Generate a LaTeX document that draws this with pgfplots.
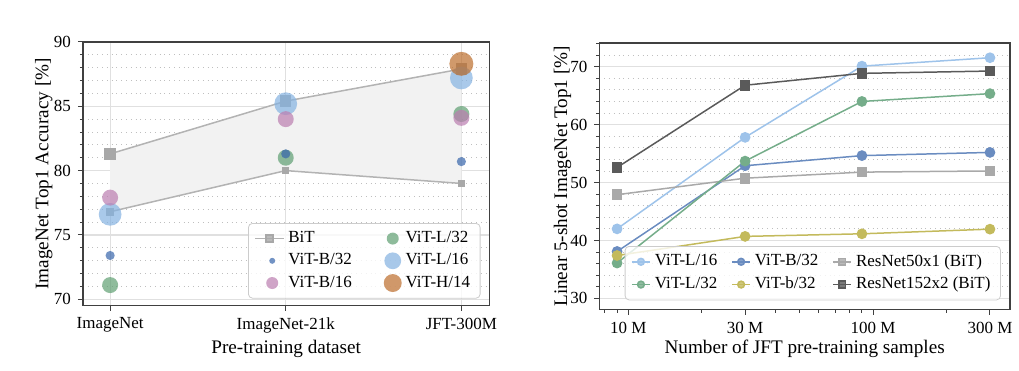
\documentclass[border=0pt]{standalone}
\usepackage{fontspec}
\setmainfont{Liberation Serif}
\usepackage{pgfplots}
\pgfplotsset{compat=1.18}

\definecolor{bitline}{HTML}{B3B3B3}
\definecolor{bitmark}{HTML}{A8A8A8}
\definecolor{bitfill}{HTML}{F2F2F2}
\definecolor{cB32}{HTML}{3765AB}
\definecolor{cB16}{HTML}{BB7EB0}
\definecolor{cL32}{HTML}{5F9F72}
\definecolor{cL16}{HTML}{84B2E1}
\definecolor{cH14}{HTML}{BC6D2C}
\definecolor{rL16}{HTML}{9EC3EA}
\definecolor{rB32}{HTML}{6A8CC0}
\definecolor{rL32}{HTML}{75AD8A}
\definecolor{rb32}{HTML}{C3BA5C}
\definecolor{rR50}{HTML}{A9A9A9}
\definecolor{rR152}{HTML}{5A5A5A}

\pgfplotsset{
  common/.style={
    scale only axis,
    axis line style={draw=black!75, line width=0.6pt},
    tick style={draw=black!75, line width=0.5pt},
    tick align=outside,
    tick pos=left,
    major tick length=2.5pt,
    minor tick length=1.5pt,
    ticklabel style={font=\fontsize{8.5}{10}\selectfont},
    label style={font=\fontsize{9.6}{11}\selectfont},
    /pgf/number format/assume math mode=true,
    major grid style={line width=0.6pt, draw=black!12},
    minor grid style={dotted, draw=black!25, line width=0.4pt},
    legend style={font=\fontsize{8.5}{10}\selectfont, draw=black!20, rounded corners=2pt,
      fill=white, fill opacity=0.8, text opacity=1, draw opacity=1},
  },
  dot/.style={only marks, color=#1, mark=*, mark options={solid, fill=#1, fill opacity=0.7, draw opacity=0}},
  rline/.style={color=#1, line width=0.75pt, mark=*, mark size=2.3pt, mark options={solid, fill=#1, draw=#1}},
  rsq/.style={color=#1, line width=0.75pt, mark=square*, mark size=2.3pt, mark options={solid, fill=#1, draw=#1}},
}

\begin{document}
\begin{tikzpicture}
\path (0pt,0pt) rectangle (509.5pt,185.5pt);

% ---------------- Left plot ----------------
\begin{axis}[common,
  at={(41.5pt,32.5pt)}, anchor=south west,
  width=203.5pt, height=132pt,
  xmin=-0.155, xmax=2.16, ymin=69.5, ymax=90,
  xtick={0,1,2}, xticklabels={ImageNet,ImageNet-21k,JFT-300M},
  ytick={70,75,80,85,90},
  minor ytick={71,72,73,74,76,77,78,79,81,82,83,84,86,87,88,89},
  xmajorgrids, ymajorgrids, yminorgrids,
  xlabel={Pre-training dataset},
  ylabel={ImageNet Top1 Accuracy [\%]},
  xlabel style={at={(axis description cs:0.5,-0.163)}, anchor=center},
  ylabel style={at={(axis description cs:-0.096,0.5)}, anchor=center},
  legend columns=2,
  legend style={at={(0.978,0.027)}, anchor=south east,
    /tikz/every even column/.append style={column sep=14pt}},
  legend cell align=left,
]
\addplot[draw=none, fill=bitfill, forget plot] coordinates {(0,81.3) (1,85.4) (2,87.9) (2,79.0) (1,80.0) (0,76.8)} -- cycle;
\addplot[color=bitline, line width=0.75pt, mark=square*, mark size=2.5pt, mark options={fill=bitmark, draw=bitmark},
  legend image code/.code={\draw[mark repeat=2,mark phase=2] plot coordinates {(0cm,0cm)(0.25cm,0cm)(0.5cm,0cm)};},
  legend image post style={mark size=1.8pt}]
  coordinates {(0,81.3) (1,85.4) (2,87.9)};
\addlegendentry{BiT}
\addplot[color=bitline, line width=0.75pt, mark=square*, mark size=1.5pt, mark options={fill=bitmark, draw=bitmark}, forget plot]
  coordinates {(0,76.8) (1,80.0) (2,79.0)};
\addplot[dot=cL32, mark size=4pt, legend image post style={mark size=3pt}] coordinates {(0,71.1) (1,81.0) (2,84.4)};
\addlegendentry{ViT-L/32}
\addplot[dot=cB32, mark size=2.3pt, legend image post style={mark size=1.5pt}] coordinates {(0,73.4) (1,81.3) (2,80.7)};
\addlegendentry{ViT-B/32}
\addplot[dot=cL16, mark size=5.7pt, legend image post style={mark size=4.2pt}] coordinates {(0,76.6) (1,85.2) (2,87.2)};
\addlegendentry{ViT-L/16}
\addplot[dot=cB16, mark size=4pt, legend image post style={mark size=3pt}] coordinates {(0,77.9) (1,84.0) (2,84.1)};
\addlegendentry{ViT-B/16}
\addplot[dot=cH14, mark size=6pt, legend image post style={mark size=4.5pt}] coordinates {(2,88.3)};
\addlegendentry{ViT-H/14}
\end{axis}

% ---------------- Right plot ----------------
\begin{axis}[common,
  at={(300pt,30.5pt)}, anchor=south west,
  width=205.5pt, height=133.5pt,
  xmode=log,
  xmin=7.62e6, xmax=3.62e8, ymin=28.05, ymax=74.1,
  xtick={1e7,3e7,1e8,3e8}, xticklabels={10 M,30 M,100 M,300 M},
  minor xtick={8e6,9e6,2e7,4e7,5e7,6e7,7e7,8e7,9e7,2e8},
  ytick={30,40,50,60,70},
  minor ytick={32,34,36,38,42,44,46,48,52,54,56,58,62,64,66,68,72,74},
  ymajorgrids, yminorgrids,
  xlabel={Number of JFT pre-training samples},
  ylabel={Linear 5-shot ImageNet Top1 [\%]},
  xlabel style={at={(axis description cs:0.5,-0.146)}, anchor=center},
  ylabel style={at={(axis description cs:-0.09,0.5)}, anchor=center},
  legend columns=3,
  legend style={at={(0.978,0.035)}, anchor=south east,
    /tikz/every even column/.append style={column sep=5pt}},
  legend cell align=left,
  legend image code/.code={\draw[mark repeat=2,mark phase=2] plot coordinates {(0cm,0cm)(0.16cm,0cm)(0.32cm,0cm)};},
  legend image post style={mark size=1.7pt},
]
\addplot[rline=rL16] coordinates {(9e6,42.0) (3e7,57.8) (9e7,70.1) (3e8,71.55)};
\addlegendentry{ViT-L/16}
\addplot[rline=rB32] coordinates {(9e6,38.1) (3e7,52.9) (9e7,54.65) (3e8,55.2)};
\addlegendentry{ViT-B/32}
\addplot[rsq=rR50] coordinates {(9e6,47.9) (3e7,50.75) (9e7,51.8) (3e8,52.0)};
\addlegendentry{ResNet50x1 (BiT)}
\addplot[rline=rL32] coordinates {(9e6,36.1) (3e7,53.7) (9e7,64.0) (3e8,65.35)};
\addlegendentry{ViT-L/32}
\addplot[rline=rb32] coordinates {(9e6,37.4) (3e7,40.7) (9e7,41.15) (3e8,41.95)};
\addlegendentry{ViT-b/32}
\addplot[rsq=rR152] coordinates {(9e6,52.6) (3e7,66.8) (9e7,68.85) (3e8,69.25)};
\addlegendentry{ResNet152x2 (BiT)}
\end{axis}
\end{tikzpicture}
\end{document}
